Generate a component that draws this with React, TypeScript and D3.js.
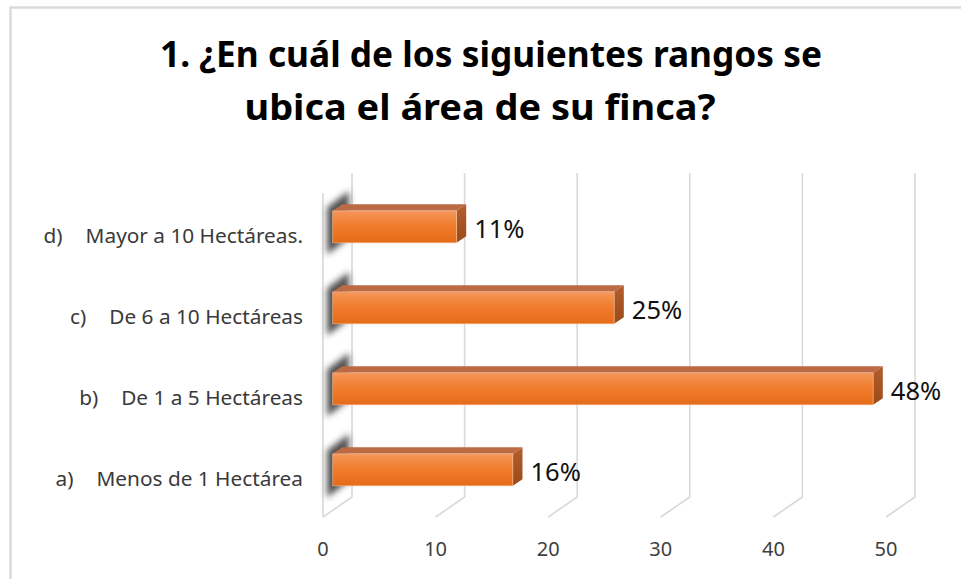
import React, { useEffect, useRef } from "react";
import * as d3 from "d3";

const titleLines = ["1. ¿En cuál de los siguientes rangos se", "ubica el área de su finca?"];
const letters = ["d)", "c)", "b)", "a)"];
const categories = ["Mayor a 10 Hectáreas.", "De 6 a 10 Hectáreas", "De 1 a 5 Hectáreas", "Menos de 1 Hectárea"];
const values = [11, 25, 48, 16];
const valueLabels = ["11%", "25%", "48%", "16%"];
const ticks = [0, 10, 20, 30, 40, 50];

const W = 961;
const H = 579;

export default function App() {
  const ref = useRef<SVGSVGElement | null>(null);

  useEffect(() => {
    const svg = d3.select(ref.current);
    svg.selectAll("*").remove();

    const defs = svg.append("defs");
    const fg = defs.append("linearGradient").attr("id", "front").attr("x1", 0).attr("y1", 0).attr("x2", 0).attr("y2", 1);
    fg.append("stop").attr("offset", "0%").attr("stop-color", "#f5975c");
    fg.append("stop").attr("offset", "45%").attr("stop-color", "#f17d2e");
    fg.append("stop").attr("offset", "100%").attr("stop-color", "#e56b18");
    const rg = defs.append("linearGradient").attr("id", "right").attr("x1", 0).attr("y1", 0).attr("x2", 0).attr("y2", 1);
    rg.append("stop").attr("offset", "0%").attr("stop-color", "#b35e2f");
    rg.append("stop").attr("offset", "100%").attr("stop-color", "#9a4a17");
    defs.append("filter").attr("id", "blur").attr("x", "-50%").attr("y", "-50%").attr("width", "200%").attr("height", "200%")
      .append("feGaussianBlur").attr("stdDeviation", 3.4);

    // outer border
    svg.append("path").attr("d", `M10.5,${H} V7.5 H${W}`).attr("fill", "none").attr("stroke", "#dadada").attr("stroke-width", 2.5);

    // title
    const titleX = [491, 480];
    const titleY = [67, 120];
    const titleW = [662, 471];
    titleLines.forEach((t, i) => {
      svg.append("text")
        .attr("x", titleX[i]).attr("y", titleY[i])
        .attr("text-anchor", "middle")
        .attr("font-family", "'Liberation Sans Narrow', 'Noto Sans', sans-serif")
        .attr("font-weight", "bold")
        .attr("font-size", 36)
        .attr("fill", "#000")
        .attr("textLength", titleW[i])
        .attr("lengthAdjust", "spacingAndGlyphs")
        .text(t);
    });

    // geometry
    const x = d3.scaleLinear().domain([0, 50]).range([323, 886]);
    const y = d3.scaleBand<string>().domain(categories).range([193, 517]).padding(0);
    const DX = 29, DY = -20;
    const f1 = 1 / 3, f2 = 2 / 3;
    const barH = y.bandwidth() * 0.395;
    const [yTop, yBot] = y.range();

    // walls / gridlines
    const grid = svg.append("g").attr("stroke", "#d9d9d9").attr("stroke-width", 1.6).attr("fill", "none");
    grid.append("line").attr("x1", x(0)).attr("x2", x(0)).attr("y1", yTop).attr("y2", yBot);
    ticks.forEach((v) => {
      grid.append("path").attr("d", `M${x(v) + DX},${yTop + DY} V${yBot + DY} L${x(v)},${yBot}`);
    });

    // shadows on left wall
    const sh = svg.append("g").attr("filter", "url(#blur)");
    categories.forEach((c) => {
      const cy = (y(c) as number) + y.bandwidth() / 2;
      const t = cy - barH / 2 - 8, b = cy + barH / 2 + 7;
      const xa = x(0) + 4, xb = x(0) + DX - 3;
      const ka = 0.1, kb = 0.92;
      sh.append("polygon")
        .attr("points", [
          [xa, t + DY * ka], [xb, t + DY * kb], [xb, b + DY * kb], [xa, b + DY * ka]
        ].map((p) => p.join(",")).join(" "))
        .attr("fill", "#333").attr("opacity", 0.85);
    });

    // bars
    const ox1 = DX * f1, oy1 = DY * f1, ox2 = DX * f2, oy2 = DY * f2;
    categories.forEach((c, i) => {
      const v = values[i];
      const cy = (y(c) as number) + y.bandwidth() / 2;
      const t = cy - barH / 2, b = cy + barH / 2;
      const xl = x(0), xr = x(v);
      const g = svg.append("g");
      g.append("polygon")
        .attr("points", [[xl + ox1, t + oy1], [xr + ox1, t + oy1], [xr + ox2, t + oy2], [xl + ox2, t + oy2]].map((p) => p.join(",")).join(" "))
        .attr("fill", "#bb6a43");
      g.append("polygon")
        .attr("points", [[xr + ox1, t + oy1], [xr + ox2, t + oy2], [xr + ox2, b + oy2], [xr + ox1, b + oy1]].map((p) => p.join(",")).join(" "))
        .attr("fill", "url(#right)");
      g.append("rect")
        .attr("x", xl + ox1).attr("y", t + oy1)
        .attr("width", xr - xl).attr("height", b - t)
        .attr("fill", "url(#front)")
        .attr("stroke", "#f8c4a0").attr("stroke-width", 0.8).attr("stroke-opacity", 0.7);

      svg.append("text")
        .attr("x", xr + ox2 + 8).attr("y", cy + oy1 + 11)
        .attr("font-family", "'Noto Sans', sans-serif")
        .attr("font-size", 25.5)
        .attr("fill", "#111")
        .text(valueLabels[i]);
    });

    // category labels
    categories.forEach((c, i) => {
      const cy = (y(c) as number) + y.bandwidth() / 2;
      const tx = svg.append("text")
        .attr("x", 303).attr("y", cy + 9.5)
        .attr("text-anchor", "end")
        .attr("font-family", "'Noto Sans', sans-serif")
        .attr("font-size", 20.8)
        .attr("fill", "#3a3a3a")
        .text(c);
      const w = (tx.node() as SVGTextElement).getComputedTextLength();
      svg.append("text")
        .attr("x", 303 - w - 23).attr("y", cy + 9.5)
        .attr("text-anchor", "end")
        .attr("font-family", "'Noto Sans', sans-serif")
        .attr("font-size", 20.8)
        .attr("fill", "#3a3a3a")
        .text(letters[i]);
    });

    // tick labels
    ticks.forEach((v) => {
      svg.append("text")
        .attr("x", x(v)).attr("y", 556)
        .attr("text-anchor", "middle")
        .attr("font-family", "'Noto Sans', sans-serif")
        .attr("font-size", 20)
        .attr("fill", "#404040")
        .text(String(v));
    });
  }, []);

  return (
    <svg
      ref={ref}
      width={W}
      height={H}
      style={{ position: "absolute", left: 0, top: 0, background: "#fff" }}
    />
  );
}
